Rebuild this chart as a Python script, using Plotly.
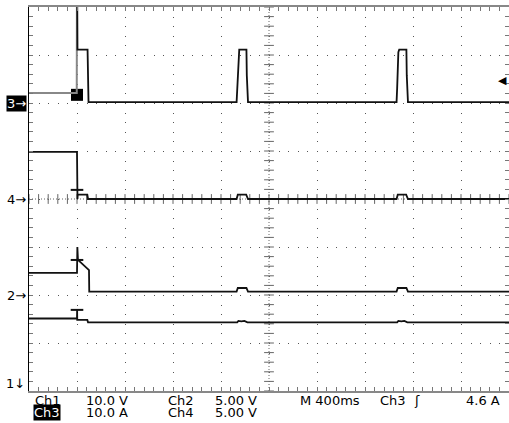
import numpy as np
import plotly.graph_objects as go

# ---- time axis (ms, trigger at 0), 400 ms/div, 10 divisions ----
T_MIN, T_MAX, MS_PER_DIV = -400, 3600, 400

# ---- channel settings: volts(amps)/div and zero position (div from bottom) ----
ch3_scale, ch3_pos = 10.0, 6.0   # A/div
ch4_scale, ch4_pos = 5.0, 4.0    # V/div
ch2_scale, ch2_pos = 5.0, 2.0    # V/div
ch1_scale, ch1_pos = 10.0, -1.0  # V/div (zero below screen)
trig_level = 4.6                 # A on Ch3

# ---- Ch3 (current) ----
ch3_pre_t = [-400, -2, 0]
ch3_pre_v = [2.1, 2.1, 32.0]
ch3_t = [0, 4, 88, 90, 96, 1330, 1335, 1345, 1352, 1412, 1415, 1425,
         2663, 2668, 2678, 2685, 2745, 2748, 2758, 3600]
ch3_v = [32.0, 11.1, 11.1, 5.8, 0.2, 0.2, 3.1, 10.6, 11.1, 11.1, 5.8, 0.2,
         0.2, 3.1, 10.6, 11.1, 11.1, 5.8, 0.2, 0.2]

# ---- Ch4 ----
ch4_t = [-400, 0, 4, 6, 86, 92, 1330, 1340, 1410, 1425, 2663, 2673, 2743, 2758, 3600]
ch4_v = [4.9, 4.9, 0.0, 0.45, 0.45, 0.0, 0.0, 0.45, 0.45, 0.0, 0.0, 0.45, 0.45, 0.0, 0.0]

# ---- Ch2 ----
ch2_t = [-400, 0, 3, 8, 100, 102, 1330, 1340, 1412, 1425, 2663, 2673, 2745, 2758, 3600]
ch2_v = [2.3, 2.3, 5.0, 3.65, 2.6, 0.36, 0.36, 0.73, 0.73, 0.36, 0.36, 0.73, 0.73, 0.36, 0.36]

# ---- Ch1 ----
ch1_t = [-400, 0, 1, 2, 86, 92, 1335, 1345, 1370, 1395, 1420, 2668, 2678, 2703, 2728, 2753, 3600]
ch1_v = [25.1, 25.1, 26.9, 24.8, 24.8, 24.3, 24.3, 24.6, 24.5, 24.6, 24.3,
         24.3, 24.6, 24.5, 24.6, 24.3, 24.3]

# glitch-capture bars at trigger (time ms, value) per channel
mark_ch4 = (0, 0.95)
mark_ch2 = (0, 3.65)
mark_ch1 = (0, 26.9)
trig_box = (0, 1.7)   # Ch3 trigger marker position (A)


def to_div(vals, scale, pos):
    return [pos + v / scale for v in vals]


fig = go.Figure()

# center crosshair (dense dotted lines with tick marks)
mid_t = (T_MIN + T_MAX) / 2
fig.add_trace(go.Scatter(x=[mid_t, mid_t], y=[0, 8], mode="lines",
                         line=dict(color="#666", width=1, dash="1px,2px"),
                         hoverinfo="skip", showlegend=False))
fig.add_trace(go.Scatter(x=[T_MIN, T_MAX], y=[4, 4], mode="lines",
                         line=dict(color="#666", width=1, dash="1px,2px"),
                         hoverinfo="skip", showlegend=False))
yt = np.arange(0, 8.001, 0.2)
fig.add_trace(go.Scatter(x=[mid_t] * len(yt), y=yt, mode="markers",
                         marker=dict(symbol="line-ew", size=7,
                                     line=dict(color="#666", width=1)),
                         hoverinfo="skip", showlegend=False))
xt = np.arange(T_MIN, T_MAX + 1, MS_PER_DIV / 5)
fig.add_trace(go.Scatter(x=xt, y=[4] * len(xt), mode="markers",
                         marker=dict(symbol="line-ns", size=7,
                                     line=dict(color="#666", width=1)),
                         hoverinfo="skip", showlegend=False))

# Ch3 trigger box
fig.add_trace(go.Scatter(x=[trig_box[0]], y=to_div([trig_box[1]], ch3_scale, ch3_pos),
                         mode="markers", marker=dict(symbol="square", size=12, color="#000"),
                         hoverinfo="skip", showlegend=False))

line_style = dict(color="#111", width=1.8)
fig.add_trace(go.Scatter(x=ch3_pre_t, y=to_div(ch3_pre_v, ch3_scale, ch3_pos), mode="lines",
                         line=dict(color="#888", width=2), showlegend=False))
fig.add_trace(go.Scatter(x=ch3_t, y=to_div(ch3_v, ch3_scale, ch3_pos), mode="lines",
                         line=line_style, showlegend=False))
fig.add_trace(go.Scatter(x=ch4_t, y=to_div(ch4_v, ch4_scale, ch4_pos), mode="lines",
                         line=line_style, showlegend=False))
fig.add_trace(go.Scatter(x=ch2_t, y=to_div(ch2_v, ch2_scale, ch2_pos), mode="lines",
                         line=line_style, showlegend=False))
fig.add_trace(go.Scatter(x=ch1_t, y=to_div(ch1_v, ch1_scale, ch1_pos), mode="lines",
                         line=line_style, showlegend=False))

# glitch bars
gx = [mark_ch4[0], mark_ch2[0], mark_ch1[0]]
gy = (to_div([mark_ch4[1]], ch4_scale, ch4_pos) + to_div([mark_ch2[1]], ch2_scale, ch2_pos)
      + to_div([mark_ch1[1]], ch1_scale, ch1_pos))
fig.add_trace(go.Scatter(x=gx, y=gy, mode="markers",
                         marker=dict(symbol="line-ew", size=9, line=dict(color="#111", width=2)),
                         hoverinfo="skip", showlegend=False))

axis_common = dict(showticklabels=False, zeroline=False, showgrid=True,
                   gridcolor="#555", gridwidth=1, griddash="1px,8.6px",
                   ticks="inside", ticklen=4, tickcolor="#777", tickwidth=1,
                   showline=True, mirror="allticks")

fig.update_xaxes(range=[T_MIN, T_MAX], dtick=MS_PER_DIV, tick0=0,
                 linecolor="#888", linewidth=2,
                 minor=dict(dtick=MS_PER_DIV / 5, ticks="inside", ticklen=4,
                            tickcolor="#777", showgrid=False),
                 **axis_common)
fig.update_yaxes(range=[0, 8], dtick=1, tick0=0,
                 linecolor="#000", linewidth=1,
                 minor=dict(dtick=0.2, ticks="inside", ticklen=4,
                            tickcolor="#777", showgrid=False),
                 **axis_common)

FONT = dict(family="DejaVu Sans", size=13, color="#000")
annots = []
# channel position markers
for label, pos, inv in [("3→", ch3_pos, True), ("4→", ch4_pos, False),
                        ("2→", ch2_pos, False)]:
    annots.append(dict(xref="paper", yref="y", x=0, y=pos, xanchor="right", yanchor="middle",
                       xshift=-2, text=label, showarrow=False,
                       font=dict(family="DejaVu Sans", size=13,
                                 color="#fff" if inv else "#000"),
                       bgcolor="#000" if inv else None, borderpad=0))
annots.append(dict(xref="paper", yref="y", x=0, y=0.15, xanchor="right", yanchor="middle",
                   xshift=-2, text="1↓", showarrow=False, font=FONT))
# trigger level arrow
annots.append(dict(xref="paper", yref="y", x=1, y=ch3_pos + trig_level / ch3_scale,
                   xanchor="right", yanchor="middle", text="◀", showarrow=False,
                   font=dict(family="DejaVu Sans", size=11, color="#000")))

# readout text
def px_x(px):
    return (px - 29) / 480.0

def px_y(py):
    return (391 - py) / 384.0

row1 = [("Ch1", 33), ("10.0 V", 84), ("Ch2", 166), ("5.00 V", 213),
        ("M 400ms", 298), ("Ch3", 378), ("ʃ", 412), ("4.6 A", 464)]
row2 = [("10.0 A", 84), ("Ch4", 166), ("5.00 V", 213)]
for txt, x in row1:
    annots.append(dict(xref="paper", yref="paper", x=px_x(x), y=px_y(400),
                       xanchor="left", yanchor="middle", text=txt, showarrow=False, font=FONT))
for txt, x in row2:
    annots.append(dict(xref="paper", yref="paper", x=px_x(x), y=px_y(412),
                       xanchor="left", yanchor="middle", text=txt, showarrow=False, font=FONT))
annots.append(dict(xref="paper", yref="paper", x=px_x(33), y=px_y(412),
                   xanchor="left", yanchor="middle", text="Ch3", showarrow=False,
                   font=dict(family="DejaVu Sans", size=13, color="#fff"),
                   bgcolor="#000", borderpad=0))

fig.update_layout(width=509, height=423, autosize=False,
                  margin=dict(l=29, r=0, t=7, b=32),
                  paper_bgcolor="#fff", plot_bgcolor="#fff",
                  annotations=annots, showlegend=False)

fig.write_html("out.html", config={"displayModeBar": False},
               post_script="document.body.style.margin='0px';document.body.style.padding='0px';")
